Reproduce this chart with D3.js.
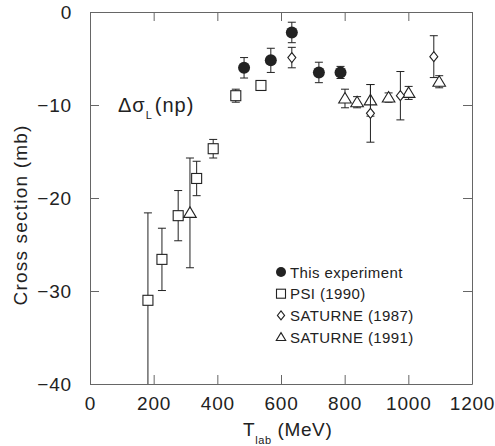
<!DOCTYPE html>
<html>
<head>
<meta charset="utf-8">
<script src="https://cdn.jsdelivr.net/npm/d3@7"></script>
<style>
  body { margin: 0; background: #fff; }
  svg { display: block; font-family: "Liberation Sans", Arial, sans-serif; }
</style>
</head>
<body>
<div id="chart"></div>
<script>
"use strict";

// series: T_lab (MeV), cross section (mb), error (mb)
var thisT = [484, 568, 634, 719, 787];
var thisV = [-6.0, -5.2, -2.2, -6.5, -6.5];
var thisE = [1.1, 1.3, 1.1, 1.1, 0.65];

var psiT = [182, 226, 277, 335, 387, 458, 537];
var psiV = [-31.0, -26.6, -21.9, -17.9, -14.7, -9.0, -7.9];
var psiE = [9.4, 3.35, 2.7, 1.85, 1.0, 0.7, 0.3];

var sat87T = [634, 881, 975, 1080];
var sat87V = [-4.9, -10.9, -9.0, -4.8];
var sat87E = [1.1, 3.1, 2.6, 2.25];

var sat91T = [314, 801, 839, 881, 938, 1001, 1097];
var sat91V = [-21.6, -9.3, -9.7, -9.5, -9.2, -8.7, -7.5];
var sat91E = [5.9, 1.0, 0.6, 1.7, 0.5, 0.7, 0.65];

var xTicks = [0, 200, 400, 600, 800, 1000, 1200];
var yTicks = [0, -10, -20, -30, -40];
var legendLabels = ["This experiment", "PSI (1990)", "SATURNE (1987)", "SATURNE (1991)"];

var width = 495, height = 446;
var plotLeft = 90, plotRight = 472, plotTop = 12, plotBottom = 384;
var ink = "#222";

var svg = d3.select("#chart").append("svg")
    .attr("width", width).attr("height", height);

var x = d3.scaleLinear().domain([0, 1200]).range([plotLeft, plotRight]);
var y = d3.scaleLinear().domain([-40, 0]).range([plotBottom, plotTop]);

svg.append("clipPath").attr("id", "plot")
    .append("rect").attr("x", plotLeft).attr("y", plotTop)
    .attr("width", plotRight - plotLeft).attr("height", plotBottom - plotTop);

//axes on all four sides, ticks pointing inwards
function styleAxis(g) {
    g.selectAll("path, line").attr("stroke", "#666").attr("stroke-width", 1);
    g.selectAll("text").attr("fill", ink).style("font-size", "19px")
        .style("letter-spacing", "0.8px")
        .style("font-family", "Liberation Sans, Arial, sans-serif");
}

svg.append("g").attr("transform", "translate(0," + plotBottom + ")")
    .call(d3.axisBottom(x).tickValues(xTicks).tickFormat(d3.format("d"))
        .tickSizeInner(-9).tickSizeOuter(0).tickPadding(13))
    .call(styleAxis);
svg.append("g").attr("transform", "translate(0," + plotTop + ")")
    .call(d3.axisTop(x).tickValues(xTicks).tickFormat("")
        .tickSizeInner(-9).tickSizeOuter(0))
    .call(styleAxis);
svg.append("g").attr("transform", "translate(" + plotLeft + ",0)")
    .call(d3.axisLeft(y).tickValues(yTicks)
        .tickSizeInner(-9).tickSizeOuter(0).tickPadding(18))
    .call(styleAxis);
svg.append("g").attr("transform", "translate(" + plotRight + ",0)")
    .call(d3.axisRight(y).tickValues(yTicks).tickFormat("")
        .tickSizeInner(-9).tickSizeOuter(0))
    .call(styleAxis);

//axis titles
var xt = svg.append("text").attr("x", 243).attr("y", 436)
    .attr("fill", ink).style("font-size", "19px").style("letter-spacing", "0.6px");
xt.append("tspan").text("T");
xt.append("tspan").attr("dy", 8).style("font-size", "11px").text("lab");
xt.append("tspan").attr("dy", -8).text(" (MeV)");

svg.append("text")
    .attr("transform", "translate(27,215) rotate(-90)")
    .attr("text-anchor", "middle").attr("fill", ink)
    .style("font-size", "19px").style("letter-spacing", "1.2px")
    .text("Cross  section  (mb)");

var lab = svg.append("text").attr("x", 118).attr("y", 112)
    .attr("fill", ink).style("font-size", "20px").style("letter-spacing", "1px");
lab.append("tspan").text("Δσ");
lab.append("tspan").attr("dy", 7).style("font-size", "11px").text("L");
lab.append("tspan").attr("dy", -7).attr("dx", 2).text("(np)");

//markers
function drawSymbol(g, kind, s) {
    if (kind === "circle") {
        g.append("circle").attr("r", s).attr("fill", ink);
    } else if (kind === "square") {
        g.append("rect").attr("x", -s).attr("y", -s).attr("width", 2 * s).attr("height", 2 * s)
            .attr("fill", "#fff").attr("stroke", ink).attr("stroke-width", 1.1);
    } else if (kind === "diamond") {
        g.append("path").attr("d", "M0," + (-s) + "L" + (s * 0.8) + ",0L0," + s + "L" + (-s * 0.8) + ",0Z")
            .attr("fill", "#fff").attr("stroke", ink).attr("stroke-width", 1.1);
    } else {
        g.append("path").attr("d", "M0," + (-s) + "L" + (s * 1.05) + "," + (s * 0.75) + "L" + (-s * 1.05) + "," + (s * 0.75) + "Z")
            .attr("fill", "#fff").attr("stroke", ink).attr("stroke-width", 1.1);
    }
}

var plot = svg.append("g").attr("clip-path", "url(#plot)");

function drawSeries(ts, vs, es, kind, size) {
    var pts = ts.map(function (t, i) { return { t: t, v: vs[i], e: es[i] }; });
    var g = plot.append("g");
    var bars = g.selectAll("g.err").data(pts).enter().append("g").attr("class", "err")
        .attr("stroke", ink).attr("stroke-width", 1);
    bars.append("line")
        .attr("x1", function (d) { return x(d.t); }).attr("x2", function (d) { return x(d.t); })
        .attr("y1", function (d) { return y(d.v + d.e); }).attr("y2", function (d) { return y(d.v - d.e); });
    [1, -1].forEach(function (sgn) {
        bars.append("line")
            .attr("x1", function (d) { return x(d.t) - 4; }).attr("x2", function (d) { return x(d.t) + 4; })
            .attr("y1", function (d) { return y(d.v + sgn * d.e); }).attr("y2", function (d) { return y(d.v + sgn * d.e); });
    });
    g.selectAll("g.mk").data(pts).enter().append("g").attr("class", "mk")
        .attr("transform", function (d) { return "translate(" + x(d.t) + "," + y(d.v) + ")"; })
        .each(function () { drawSymbol(d3.select(this), kind, size); });
}

drawSeries(psiT, psiV, psiE, "square", 5);
drawSeries(sat91T, sat91V, sat91E, "triangle", 6);
drawSeries(sat87T, sat87V, sat87E, "diamond", 5);
drawSeries(thisT, thisV, thisE, "circle", 6);

//legend
var kinds = ["circle", "square", "diamond", "triangle"];
var legend = svg.append("g").attr("transform", "translate(281,272)");
legendLabels.forEach(function (label, i) {
    var row = legend.append("g").attr("transform", "translate(0," + (i * 21.7) + ")");
    drawSymbol(row, kinds[i], kinds[i] === "circle" ? 5 : 4.5);
    row.append("text").attr("x", 9).attr("y", 5.5).attr("fill", ink)
        .style("font-size", "15px").style("letter-spacing", "0.4px").text(label);
});
</script>
</body>
</html>
